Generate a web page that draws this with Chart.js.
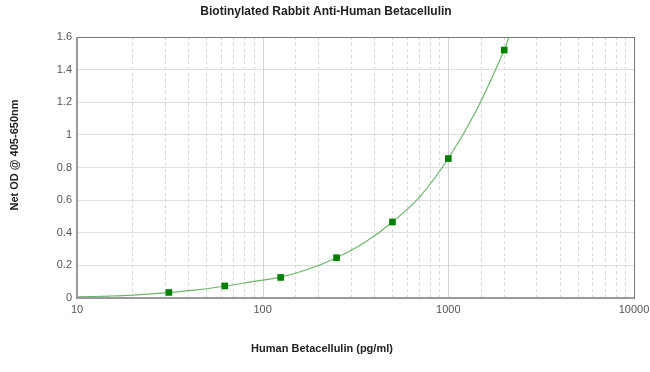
<!DOCTYPE html>
<html>
<head>
<meta charset="utf-8">
<script src="https://cdn.jsdelivr.net/npm/chart.js@4.4.1/dist/chart.umd.min.js"></script>
<style>
  html, body { margin: 0; padding: 0; background: #fff; }
  #wrap { width: 650px; height: 372px; }
</style>
</head>
<body>
<div id="wrap"><canvas id="chart"></canvas></div>
<script>
// Standard points (pg/ml) and their net OD
const concentrations = [31.25, 62.5, 125, 250, 500, 1000, 2000];
const netOD = [0.034, 0.074, 0.126, 0.247, 0.466, 0.855, 1.52];

// Fitted curve
const curveX = [10, 15, 20, 31.25, 44, 62.5, 88, 125, 177, 250, 354, 500, 707, 1000, 1414, 2000, 2120];
const curveY = [0.007, 0.012, 0.018, 0.033, 0.05, 0.072, 0.1, 0.128, 0.178, 0.247, 0.34, 0.466, 0.625, 0.855, 1.15, 1.52, 1.6];

// Axis ticks
const xLabelTicks = [10, 100, 1000, 10000];
const yTicks = [0, 0.2, 0.4, 0.6, 0.8, 1, 1.2, 1.4, 1.6];

const chartTitle = "Biotinylated Rabbit Anti-Human Betacellulin";
const xTitle = "Human Betacellulin (pg/ml)";
const yTitle = "Net OD @ 405-650nm";

const toXY = (xs, ys) => xs.map((x, i) => ({ x: x, y: ys[i] }));

// Draws titles, solid decade lines and the plot frame
const decorations = {
  id: "decorations",
  beforeDatasetsDraw(chart) {
    const ctx = chart.ctx;
    const area = chart.chartArea;
    const xs = chart.scales.x;
    ctx.save();
    ctx.strokeStyle = "#d4d4d4";
    ctx.lineWidth = 1;
    xLabelTicks.forEach(v => {
      const px = Math.round(xs.getPixelForValue(v)) + 0.5;
      ctx.beginPath();
      ctx.moveTo(px, area.top);
      ctx.lineTo(px, area.bottom);
      ctx.stroke();
    });
    ctx.restore();
  },
  afterDraw(chart) {
    const ctx = chart.ctx;
    const area = chart.chartArea;
    ctx.save();
    ctx.strokeStyle = "#777";
    ctx.lineWidth = 1;
    ctx.strokeRect(area.left + 0.5, area.top + 0.5, area.right - area.left, area.bottom - area.top);
    ctx.strokeStyle = "#999";
    ctx.lineWidth = 2;
    ctx.beginPath();
    ctx.moveTo(area.left, area.top);
    ctx.lineTo(area.left, area.bottom);
    ctx.lineTo(area.right, area.bottom);
    ctx.stroke();

    ctx.fillStyle = "#222";
    ctx.textAlign = "center";
    ctx.textBaseline = "middle";
    ctx.font = "bold 12px 'Liberation Sans', Arial, sans-serif";
    ctx.fillText(chartTitle, 326, 12);
    ctx.font = "bold 11px 'Liberation Sans', Arial, sans-serif";
    ctx.fillText(xTitle, 322, 349);
    ctx.translate(15, 155);
    ctx.rotate(-Math.PI / 2);
    ctx.fillText(yTitle, 0, 0);
    ctx.restore();
  }
};

new Chart(document.getElementById("chart").getContext("2d"), {
  type: "scatter",
  data: {
    datasets: [
      {
        data: toXY(concentrations, netOD),
        showLine: false,
        pointStyle: "rect",
        pointRadius: 4.7,
        backgroundColor: "#008000",
        borderColor: "#006a00",
        borderWidth: 0
      },
      {
        data: toXY(curveX, curveY),
        showLine: true,
        pointRadius: 0,
        borderColor: "#6cb66c",
        borderWidth: 1.2,
        tension: 0.4,
        fill: false
      }
    ]
  },
  options: {
    responsive: true,
    maintainAspectRatio: false,
    animation: false,
    layout: { padding: { left: 0, right: 16, top: 37, bottom: 0 } },
    plugins: {
      legend: { display: false },
      tooltip: { enabled: false },
      title: { display: false }
    },
    scales: {
      x: {
        type: "logarithmic",
        min: 10,
        max: 10000,
        afterFit: scale => {
          scale.height = 74;
          scale.paddingLeft = 0;
          scale.paddingRight = 0;
        },
        border: { display: false, dash: [3, 3] },
        grid: {
          drawTicks: false,
          color: ctx => xLabelTicks.includes(ctx.tick && ctx.tick.value) ? "rgba(0,0,0,0)" : "#d6d6d6"
        },
        ticks: {
          autoSkip: false,
          maxRotation: 0,
          padding: 5,
          color: "#555",
          font: { family: "'Liberation Sans', Arial, sans-serif", size: 11 },
          callback: v => xLabelTicks.includes(v) ? String(v) : ""
        }
      },
      y: {
        min: 0,
        max: 1.6,
        afterFit: scale => { scale.width = 77; },
        afterBuildTicks: scale => { scale.ticks = yTicks.map(v => ({ value: v })); },
        border: { display: false },
        grid: { drawTicks: false, color: "#dedede" },
        ticks: {
          padding: 5,
          color: "#555",
          font: { family: "'Liberation Sans', Arial, sans-serif", size: 11 },
          callback: v => String(Math.round(v * 10) / 10)
        }
      }
    }
  },
  plugins: [decorations]
});
</script>
</body>
</html>
